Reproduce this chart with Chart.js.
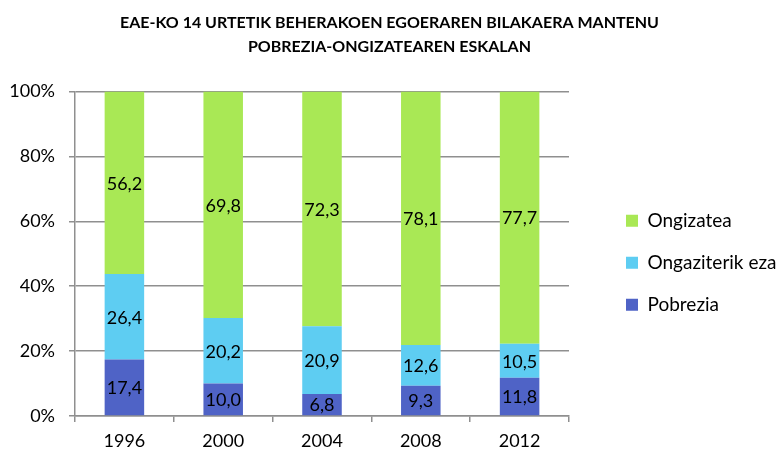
<!DOCTYPE html>
<html>
<head>
<meta charset="utf-8">
<script src="https://cdn.jsdelivr.net/npm/chart.js@4"></script>
<style>
  html, body { margin: 0; padding: 0; background: #fff; }
  #wrap { width: 779px; height: 450px; }
</style>
</head>
<body>
<div id="wrap"><canvas id="Chart_1"></canvas></div>
<script>
var urteak = ['1996', '2000', '2004', '2008', '2012'];
var pobrezia = [17.4, 10.0, 6.8, 9.3, 11.8];
var ongaziterikEza = [26.4, 20.2, 20.9, 12.6, 10.5];
var ongizatea = [56.2, 69.8, 72.3, 78.1, 77.7];
var yTicks = [0, 20, 40, 60, 80, 100];

var letra = 'Lato, "Open Sans", sans-serif';
var grisa = '#8f8f8f';

// balioak barra zati bakoitzaren erdian
var etiketak = {
    id: 'etiketak',
    afterDatasetsDraw: function (chart) {
        var ctx = chart.ctx;
        ctx.save();
        ctx.font = '18px ' + letra;
        ctx.fillStyle = '#000';
        ctx.textAlign = 'center';
        ctx.textBaseline = 'middle';
        chart.data.datasets.forEach(function (ds, i) {
            chart.getDatasetMeta(i).data.forEach(function (bar, j) {
                var txt = ds.data[j].toFixed(1).replace('.', ',');
                ctx.fillText(txt, bar.x, (bar.y + bar.base) / 2 + 1);
            });
        });
        ctx.restore();
    }
};

var ctx = document.getElementById('Chart_1');
var chart = new Chart(ctx, {
    type: 'bar',
    data: {
        labels: urteak,
        datasets: [
            { label: 'Pobrezia', backgroundColor: '#4f63c6', data: pobrezia },
            { label: 'Ongaziterik eza', backgroundColor: '#5ecdf2', data: ongaziterikEza },
            { label: 'Ongizatea', backgroundColor: '#a9e855', data: ongizatea }
        ]
    },
    options: {
        responsive: true,
        maintainAspectRatio: false,
        animation: false,
        datasets: { bar: { categoryPercentage: 1, barPercentage: 0.4 } },
        layout: { padding: 0 },
        plugins: {
            tooltip: { enabled: false },
            title: {
                display: true,
                text: ['EAE-KO 14 URTETIK BEHERAKOEN EGOERAREN BILAKAERA MANTENU', 'POBREZIA-ONGIZATEAREN ESKALAN'],
                font: { family: letra, size: 16, weight: 'bold', lineHeight: 1.55 },
                color: '#000',
                padding: { top: 10, bottom: 32 }
            },
            legend: {
                position: 'right',
                fullSize: false,
                reverse: true,
                maxWidth: 176,
                title: { display: true, text: ' ', font: { size: 10, lineHeight: 1.8 }, padding: 0 },
                labels: {
                    font: { family: letra, size: 19 },
                    color: '#000',
                    boxWidth: 12,
                    boxHeight: 12,
                    padding: 23
                }
            }
        },
        scales: {
            x: {
                stacked: true,
                afterFit: function (s) { s.height = 34; },
                grid: { offset: true, drawOnChartArea: false, color: grisa, lineWidth: 1.5, tickLength: 6 },
                border: { color: grisa, width: 1.5 },
                ticks: { color: '#000', font: { family: letra, size: 18 }, padding: 8 }
            },
            y: {
                stacked: true,
                min: 0,
                max: 100,
                afterFit: function (s) { s.width = 75; },
                afterBuildTicks: function (s) { s.ticks = yTicks.map(function (v) { return { value: v }; }); },
                grid: { color: grisa, lineWidth: 1.5, tickLength: 6 },
                border: { color: grisa, width: 1.5 },
                ticks: {
                    color: '#000',
                    font: { family: letra, size: 18 },
                    padding: 14,
                    callback: function (v) { return v + '%'; }
                }
            },
            hutsa: {
                position: 'right',
                display: true,
                grid: { display: false },
                border: { display: false },
                ticks: { display: false },
                afterFit: function (s) { s.width = 34; }
            }
        }
    },
    plugins: [etiketak]
});
</script>
</body>
</html>
